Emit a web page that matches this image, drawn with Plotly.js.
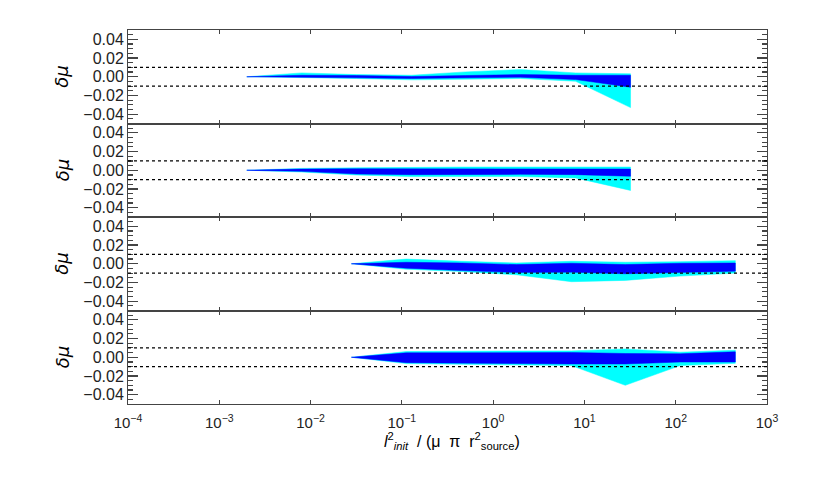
<!DOCTYPE html>
<html>
<head>
<meta charset="utf-8">
<script src="https://cdn.plot.ly/plotly-3.0.1.min.js"></script>
<style>html,body{margin:0;padding:0;background:#fff;}#chart{width:831px;height:489px;}</style>
</head>
<body>
<div id="chart"></div>
<script>
// x positions (l^2_init / (mu pi r^2_source))
const xShort = [0.002, 0.008, 0.032, 0.128, 0.5, 2, 8, 32];
const xLong  = [0.028, 0.112, 0.45, 1.8, 7.2, 28, 112, 450];

// panel 1
const p1CyanUp = [0, 0.0041, 0.0023, 0.0016, 0.0052, 0.0077, 0.0041, 0.0031];
const p1BlueUp = [0, 0.0016, 0.0013, 0.0002, 0.0013, 0.0023, 0.0016, 0.0016];
const p1BlueLo = [0, -0.0005, -0.0012, -0.0019, -0.0012, -0.0005, -0.0030, -0.0112];
const p1CyanLo = [0, -0.0012, -0.0019, -0.0033, -0.0023, -0.0019, -0.0048, -0.0330];

// panel 2
const p2CyanUp = [0, 0.0020, 0.0026, 0.0034, 0.0034, 0.0034, 0.0034, 0.0034];
const p2BlueUp = [0, 0.0013, 0.0016, 0.0016, 0.0016, 0.0016, 0.0013, 0.0013];
const p2BlueLo = [0, -0.0012, -0.0040, -0.0047, -0.0047, -0.0044, -0.0047, -0.0064];
const p2CyanLo = [0, -0.0019, -0.0051, -0.0068, -0.0072, -0.0068, -0.0082, -0.0216];

// panel 3
const p3CyanUp = [0, 0.0050, 0.0026, 0.0008, 0.0026, 0.0016, 0.0022, 0.0033];
const p3BlueUp = [0, 0.0016, 0.0008, -0.0009, 0.0005, -0.0009, 0.0005, 0.0008];
const p3BlueLo = [0, -0.0047, -0.0073, -0.0094, -0.0090, -0.0107, -0.0090, -0.0079];
const p3CyanLo = [0, -0.0058, -0.0083, -0.0118, -0.0192, -0.0178, -0.0132, -0.0100];

// panel 4
const p4CyanUp = [0, 0.0061, 0.0064, 0.0064, 0.0068, 0.0089, 0.0054, 0.0075];
const p4BlueUp = [0, 0.0047, 0.0047, 0.0047, 0.0051, 0.0040, 0.0037, 0.0058];
const p4BlueLo = [0, -0.0058, -0.0058, -0.0068, -0.0072, -0.0072, -0.0051, -0.0051];
const p4CyanLo = [0, -0.0068, -0.0075, -0.0086, -0.0089, -0.0300, -0.0089, -0.0065];

const panels = [
  {x: xShort, cu: p1CyanUp, bu: p1BlueUp, bl: p1BlueLo, cl: p1CyanLo},
  {x: xShort, cu: p2CyanUp, bu: p2BlueUp, bl: p2BlueLo, cl: p2CyanLo},
  {x: xLong,  cu: p3CyanUp, bu: p3BlueUp, bl: p3BlueLo, cl: p3CyanLo},
  {x: xLong,  cu: p4CyanUp, bu: p4BlueUp, bl: p4BlueLo, cl: p4CyanLo}
];

const xTickVals = [1e-4, 1e-3, 1e-2, 1e-1, 1, 10, 100, 1000];
const xTickText = ['10<sup>−4</sup>','10<sup>−3</sup>','10<sup>−2</sup>','10<sup>−1</sup>','10<sup>0</sup>','10<sup>1</sup>','10<sup>2</sup>','10<sup>3</sup>'];

const traces = [];
const shapes = [];
const layout = {
  width: 831, height: 489,
  margin: {l: 128, r: 64, t: 30, b: 85},
  paper_bgcolor: '#fff', plot_bgcolor: '#fff',
  showlegend: false,
  font: {family: 'Liberation Sans, Arial, sans-serif', size: 15, color: '#222'},
  annotations: []
};

const axColor = '#444';
panels.forEach((p, i) => {
  const sfx = i === 0 ? '' : String(i + 1);
  const xa = 'x' + sfx, ya = 'y' + sfx;
  const xs = p.x.concat(p.x.slice().reverse());
  traces.push({
    type: 'scatter', mode: 'lines', x: xs,
    y: p.cu.concat(p.cl.slice().reverse()),
    fill: 'toself', fillcolor: '#00FFFF', line: {width: 0.5, color: '#00FFFF'},
    xaxis: xa, yaxis: ya, hoverinfo: 'skip'
  });
  traces.push({
    type: 'scatter', mode: 'lines', x: xs,
    y: p.bu.concat(p.bl.slice().reverse()),
    fill: 'toself', fillcolor: '#0000FF', line: {width: 0.5, color: '#0000FF'},
    xaxis: xa, yaxis: ya, hoverinfo: 'skip'
  });
  const top = 1 - i * 0.25, bot = 1 - (i + 1) * 0.25;
  const xaxis = {
    type: 'log', range: [-4, 3], anchor: ya,
    ticks: 'inside', ticklen: 4, tickwidth: 1.2, tickcolor: axColor,
    showline: true, linecolor: axColor, linewidth: 1, mirror: 'ticks',
    showgrid: false, zeroline: false,
    tickfont: {size: 15, color: '#222'}
  };
  if (i === 3) {
    xaxis.tickmode = 'array';
    xaxis.tickvals = xTickVals;
    xaxis.ticktext = xTickText;
    xaxis.showticklabels = true;
    xaxis.ticklabelstandoff = 5;
  } else {
    xaxis.dtick = 1;
    xaxis.showticklabels = false;
  }
  layout['xaxis' + sfx] = xaxis;
  layout['yaxis' + sfx] = {
    domain: [bot, top], anchor: xa,
    range: [-0.05, 0.05], tick0: 0, dtick: 0.02, tickformat: '.2f',
    ticks: 'inside', ticklen: 10, tickwidth: 1.2, tickcolor: axColor,
    minor: {dtick: 0.005, tick0: 0, ticks: 'inside', ticklen: 5, tickwidth: 1.2, tickcolor: axColor},
    showline: true, linecolor: axColor, linewidth: 1, mirror: 'ticks',
    showgrid: false, zeroline: false,
    tickfont: {size: 16, color: '#222'}
  };
  [0.01, -0.01].forEach(v => {
    shapes.push({type: 'line', xref: xa + ' domain', yref: ya, x0: 0, x1: 1, y0: v, y1: v,
      line: {color: '#000', width: 1.3, dash: 'dot'}});
  });
  layout.annotations.push({
    text: '<i>δμ</i>', xref: 'paper', yref: 'paper',
    x: (62 - 128) / 639, y: (top + bot) / 2, xanchor: 'center', yanchor: 'middle',
    textangle: -90, showarrow: false,
    font: {family: 'DejaVu Sans', size: 18, color: '#000'}
  });
});
layout.shapes = shapes;
layout.annotations.push({
  text: '<i>l</i><sup>2</sup><sub><i>init</i></sub>  / (μ  π  r<sup>2</sup><sub>source</sub>)',
  xref: 'paper', yref: 'paper', x: (452 - 128) / 639, y: (404 - 441) / 374,
  xanchor: 'center', yanchor: 'middle', showarrow: false,
  font: {family: 'Liberation Sans, Arial, sans-serif', size: 16, color: '#000'}
});

Plotly.newPlot('chart', traces, layout, {displayModeBar: false, staticPlot: true});
</script>
</body>
</html>
